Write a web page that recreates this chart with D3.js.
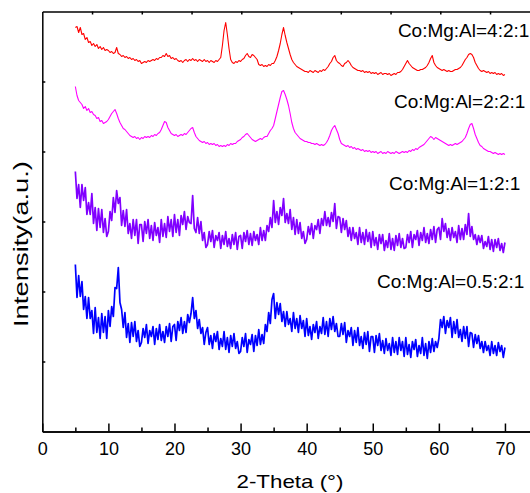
<!DOCTYPE html>
<html>
<head>
<meta charset="utf-8">
<script src="https://cdn.jsdelivr.net/npm/d3@7"></script>
<style>
  body { margin: 0; background: #fff; }
  svg { display: block; }
  text { font-family: "Liberation Sans", Arial, sans-serif; fill: #000; }
</style>
</head>
<body>
<svg id="chart" width="530" height="493"></svg>
<script>
// 2-theta grid: 5° to 70° in 0.25° steps (261 points)
const thetaStart = 5, thetaStep = 0.25, thetaCount = 261;
const twoTheta = d3.range(thetaCount).map(i => thetaStart + i * thetaStep);

const xTicksMajor = [0, 10, 20, 30, 40, 50, 60, 70];
const xTicksMinor = [5, 15, 25, 35, 45, 55, 65];
const yTicks = [70, 140, 210, 280, 350];

const labels = ["Co:Mg:Al=4:2:1", "Co:Mg:Al=2:2:1", "Co:Mg:Al=1:2:1", "Co:Mg:Al=0.5:2:1"];
const colors = ["#ff0000", "#ff00ff", "#8000ff", "#0000ff"];

// Intensity (a.u., offset-stacked), one value per twoTheta point
const ratio421 = [
404,405,399,404,397,398,392,394,389,390,386,388,385,387,383,385,382,384,381,382,
381,379,380,378,379,384,378,377,375,376,374,375,373,374,372,373,371,372,370,371,
368,369,370,369,371,370,371,372,371,373,372,374,374,376,375,378,375,376,373,374,
372,373,371,370,371,369,371,372,370,372,371,373,371,372,370,372,371,370,372,370,
371,369,371,370,369,371,370,372,374,386,401,409,397,383,372,369,368,370,369,371,
370,372,373,376,378,375,374,377,376,374,372,367,366,367,365,366,365,367,366,368,
368,371,375,381,388,397,404,396,389,383,377,372,369,367,365,364,363,362,361,360,
360,359,361,360,359,361,360,359,361,360,362,361,363,365,368,370,374,376,371,369,
368,366,365,368,369,371,369,366,364,363,362,361,361,360,361,359,360,359,360,358,
359,358,359,357,358,359,357,358,358,357,358,356,357,358,357,359,359,360,362,365,
368,371,368,366,364,363,362,361,361,362,362,363,364,366,369,373,376,369,366,364,
363,362,361,362,361,360,361,360,360,361,362,362,363,364,366,369,372,374,377,378,
377,374,369,366,363,361,360,361,360,359,360,358,359,358,359,357,358,357,358,356,
357];

const ratio221 = [
345,336,331,329,327,323,325,321,323,319,320,317,316,313,314,310,311,308,309,310,
312,315,318,320,322,318,313,309,306,303,302,300,298,296,295,294,295,293,294,292,
294,293,295,294,295,294,296,295,297,296,298,299,302,306,310,309,304,301,298,297,
296,297,295,296,297,296,298,297,299,301,303,304,299,295,293,291,290,289,290,288,
289,287,288,287,288,286,287,285,286,285,286,285,287,286,288,287,288,288,290,291,
292,294,295,297,298,296,294,292,291,290,291,292,293,292,294,295,295,298,301,303,
306,313,320,327,334,340,341,337,332,326,318,309,303,299,297,295,293,292,291,290,
290,289,289,288,288,287,288,287,286,287,286,287,289,292,296,301,304,306,302,298,
292,288,287,286,285,286,284,285,283,284,282,283,282,281,282,280,281,280,281,279,
280,279,280,278,279,280,278,279,278,280,279,278,279,278,280,279,278,279,280,279,
280,279,281,280,282,281,283,282,284,285,286,287,289,291,293,295,294,292,294,293,
292,291,290,289,288,287,286,287,286,287,288,287,288,289,290,292,294,298,303,307,
308,303,297,293,289,286,285,283,282,281,280,280,279,278,279,278,277,278,277,278,
277];

const ratio121 = [
260,233,247,224,247,231,244,217,229,217,238,208,224,201,223,204,222,199,213,195,
200,220,211,234,219,241,228,234,206,221,205,222,198,208,193,212,196,212,188,207,
207,190,210,198,212,193,206,191,209,196,204,189,212,195,208,194,215,200,212,195,
217,199,212,196,216,207,220,202,215,209,208,236,203,199,214,198,210,191,199,184,
187,200,190,201,184,196,191,199,183,196,187,200,185,193,183,197,187,199,182,195,
196,183,199,190,201,187,198,186,200,191,197,187,204,191,201,191,206,200,214,204,
231,209,220,207,224,216,233,209,218,208,222,202,214,197,212,198,209,193,200,188,
192,205,197,208,193,206,202,212,198,213,206,220,206,214,205,219,210,228,203,215,
214,199,213,202,211,195,204,191,204,193,199,187,204,189,199,187,202,190,199,184,
200,186,194,182,197,188,197,181,191,184,198,182,193,181,196,186,198,184,193,183,
184,197,189,200,184,197,192,201,186,199,191,204,189,198,188,202,192,205,189,202,
204,192,213,200,208,194,203,191,204,194,200,189,206,192,203,192,207,197,218,195,
205,192,197,187,196,189,196,183,190,185,195,182,192,180,192,184,193,181,188,179,
189];

const ratio0521 = [
167,134,156,135,150,122,135,113,134,113,121,98,124,99,114,93,118,99,115,93,
121,105,125,115,144,143,164,129,122,104,119,94,108,89,109,95,110,90,101,85,
89,103,94,107,88,101,95,105,87,103,92,107,91,100,89,105,95,108,90,105,
107,91,110,101,114,98,110,99,117,109,118,134,113,121,103,112,98,104,87,99,
104,87,96,83,98,90,100,82,93,85,100,82,94,79,96,85,98,83,90,78,
80,94,85,98,79,92,87,97,80,96,86,102,87,97,88,107,100,119,108,132,
138,113,129,117,128,110,120,105,120,107,113,100,119,103,113,99,116,103,111,95,
113,96,105,92,107,99,110,93,105,98,114,97,110,95,113,102,115,100,108,95,
95,108,97,109,89,101,95,104,86,101,89,104,86,95,83,99,87,100,80,95,
95,79,96,86,98,81,91,78,93,81,88,76,94,79,90,77,94,81,90,75,
94,77,87,74,90,82,92,75,86,78,94,76,88,73,90,79,93,80,90,84,
93,112,104,115,98,111,104,114,94,110,98,112,94,102,90,105,93,105,85,99,
98,84,97,88,96,83,90,79,90,81,86,76,90,78,86,76,89,80,86,74,
84];

const seriesValues = [ratio421, ratio221, ratio121, ratio0521];

// ---- layout ----
const svg = d3.select("#chart");
const plotLeft = 42.3, plotBottom = 431.5, plotTop = 11.5, plotRight = 538;
const x = d3.scaleLinear().domain([0, 75]).range([plotLeft, plotRight]);
const y = d3.scaleLinear().domain([0, 420]).range([plotBottom, plotTop]);
const xTop = d3.scaleLinear().domain([0, 10]).range([plotLeft, plotLeft + 497.5]);

const line = d3.line()
  .x((d, i) => x(twoTheta[i]))
  .y(d => y(d));

const strokeWidths = [1.1, 1.1, 1.7, 1.7];
seriesValues.forEach((vals, k) => {
  svg.append("path")
    .datum(vals)
    .attr("fill", "none")
    .attr("stroke", colors[k])
    .attr("stroke-width", strokeWidths[k])
    .attr("stroke-linejoin", "round")
    .attr("d", line);
});

// series labels (position in data coordinates)
const labelPos = [[53.8, 395], [53.2, 323.5], [52.45, 241.5], [50.64, 143.5]];
labels.forEach((t, k) => {
  svg.append("text")
    .attr("x", x(labelPos[k][0]))
    .attr("y", y(labelPos[k][1]))
    .attr("font-size", 19)
    .text(t);
});

function styleAxis(g) {
  g.selectAll("path.domain").attr("stroke", "#000").attr("stroke-width", 1.5);
  g.selectAll(".tick line").attr("stroke", "#000").attr("stroke-width", 1.5);
}

// bottom axis major
const gx = svg.append("g").attr("transform", `translate(0,${plotBottom})`)
  .call(d3.axisBottom(x).tickValues(xTicksMajor).tickSizeInner(-8).tickSizeOuter(0).tickPadding(11).tickFormat(d3.format("d")));
styleAxis(gx);
gx.selectAll("text").attr("font-size", 18).attr("font-family", "Liberation Sans, Arial, sans-serif").attr("fill", "#000");

// bottom minor ticks
const gxm = svg.append("g").attr("transform", `translate(0,${plotBottom})`)
  .call(d3.axisBottom(x).tickValues(xTicksMinor).tickSizeInner(-4).tickSizeOuter(0).tickFormat(""));
styleAxis(gxm);

// top axis
const gt = svg.append("g").attr("transform", `translate(0,${plotTop})`)
  .call(d3.axisTop(xTop).tickValues(d3.range(1, 10)).tickSizeInner(-3).tickSizeOuter(0).tickFormat(""));
styleAxis(gt);

// left axis
const gy = svg.append("g").attr("transform", `translate(${plotLeft},0)`)
  .call(d3.axisLeft(y).tickValues(yTicks).tickSizeInner(-3).tickSizeOuter(0).tickFormat(""));
styleAxis(gy);

// axis titles
svg.append("text")
  .attr("x", 290).attr("y", 488)
  .attr("text-anchor", "middle")
  .attr("font-size", 19)
  .attr("textLength", 107).attr("lengthAdjust", "spacingAndGlyphs")
  .text("2-Theta (°)");

svg.append("text")
  .attr("transform", "translate(28,244) rotate(-90)")
  .attr("text-anchor", "middle")
  .attr("font-size", 21)
  .attr("textLength", 166).attr("lengthAdjust", "spacingAndGlyphs")
  .text("Intensity(a.u.)");
</script>
</body>
</html>
